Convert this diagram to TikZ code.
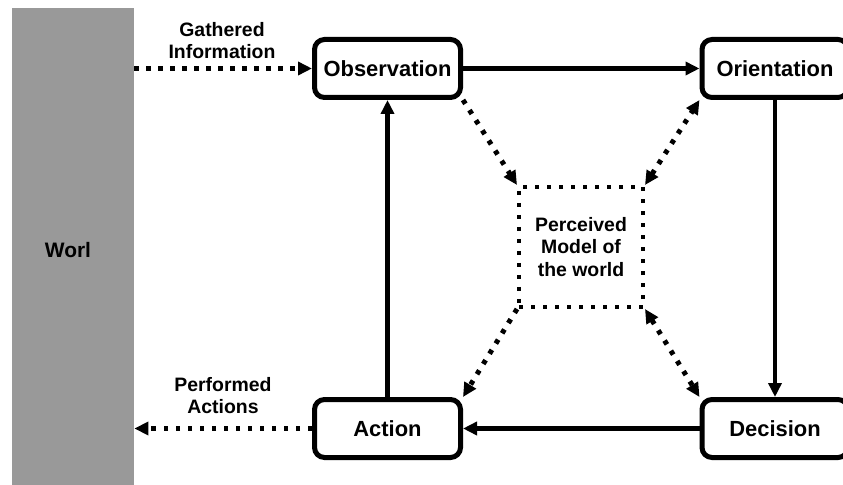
\documentclass[tikz,border=0pt]{standalone}
\usepackage{fontspec}
\setmainfont{Liberation Sans}
\usetikzlibrary{arrows.meta}
\definecolor{worldgray}{HTML}{999999}
\begin{document}
\begin{tikzpicture}[x=1bp,y=-1bp,
  >={Triangle[length=14bp,width=13bp]},
  box/.style={draw, line width=5bp, rounded corners=10bp, fill=white,
    minimum width=146bp, minimum height=58bp, inner sep=0pt,
    font=\fontsize{22}{26}\selectfont\bfseries},
  lbl/.style={align=center, inner sep=0pt, font=\fontsize{19.5}{22}\selectfont\bfseries},
  solidarrow/.style={line width=4.5bp, ->},
  dotarrow/.style={line width=5bp, dash pattern=on 4.5bp off 7.5bp}
]
\useasboundingbox (0,0) rectangle (843,485);
\node[fill=worldgray, minimum width=122bp, minimum height=482bp, inner sep=0pt, anchor=north west] (world) at (12,8) {};
\node[lbl, font=\fontsize{21}{24}\selectfont\bfseries] (worldtext) at (68,250) {Worl};

\node[box] (obs) at (387.5,68.5) {Observation};
\node[box] (ori) at (775,68.5) {Orientation};
\node[box] (act) at (387.5,428.5) {Action};
\node[box] (dec) at (775,428.5) {Decision};

\node[draw, line width=4bp, dash pattern=on 4bp off 8bp, minimum width=124bp, minimum height=120bp,
  inner sep=0pt, align=center, font=\fontsize{19.5}{23}\selectfont\bfseries] (model) at (581,247)
  {Perceived\\Model of\\the world};

\node[lbl] (gathered) at (222,41) {Gathered\\Information};
\node[lbl] (performed) at (223,396) {Performed\\Actions};

\draw[solidarrow] (obs.east) -- (ori.west);
\draw[solidarrow] (ori.south) -- (dec.north);
\draw[solidarrow] (dec.west) -- (act.east);
\draw[solidarrow] (act.north) -- (obs.south);

\draw[dotarrow, ->] (world.east |- obs.west) -- (obs.west);
\draw[dotarrow, ->] (act.west) -- (world.east |- act.west);

\draw[dotarrow, ->] (obs.south east) -- (model.north west);
\draw[dotarrow, <->] (model.north east) -- (ori.south west);
\draw[dotarrow, ->] (model.south west) -- (act.north east);
\draw[dotarrow, <->] (model.south east) -- (dec.north west);
\end{tikzpicture}
\end{document}
